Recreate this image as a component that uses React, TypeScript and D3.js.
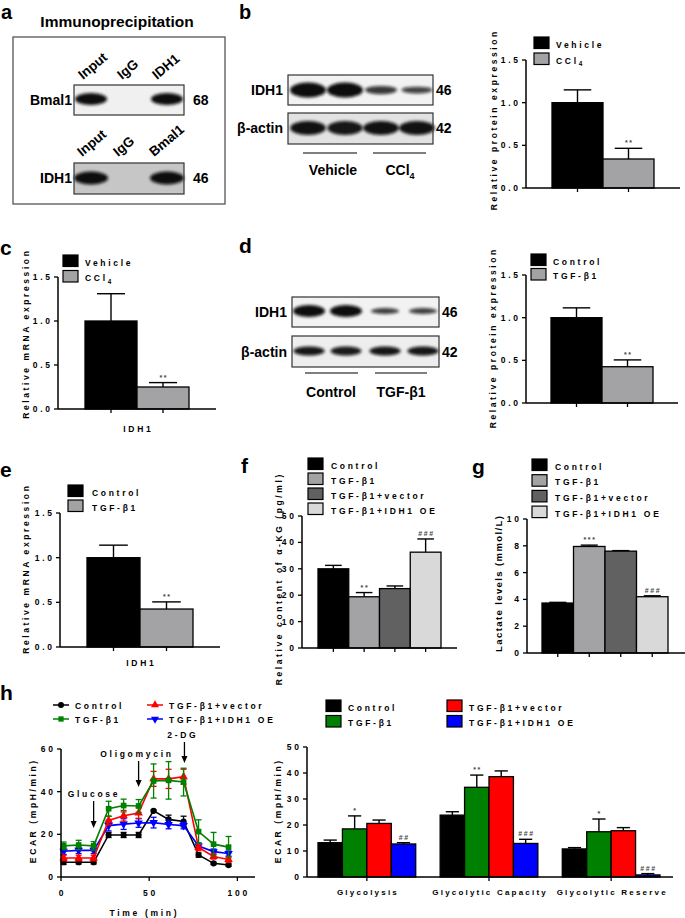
import React from "react";
import * as d3 from "d3";

const FONT = "'Liberation Sans', Arial, Helvetica, sans-serif";
const FS = 8.5;
const LS = 2.7;

// ---------------- DATA ----------------
const aLanesTop = ["Input", "IgG", "IDH1"];
const aLanesBottom = ["Input", "IgG", "Bmal1"];
const aBandsTop = [1, 0, 1];
const aBandsBottom = [1, 0, 1];
const bBlotIDH1 = [1, 1, 0.55, 0.45];
const bBlotActin = [0.95, 0.9, 0.95, 0.95];
const dBlotIDH1 = [1, 1, 0.5, 0.5];
const dBlotActin = [0.9, 0.85, 0.9, 0.9];

const vehCats = ["Vehicle", "CCl4"];
const tgfCats = ["Control", "TGF-β1"];
const fourCats = ["Control", "TGF-β1", "TGF-β1+vector", "TGF-β1+IDH1 OE"];

const bValues = [1.0, 0.34];
const bErrors = [0.15, 0.125];
const bStars = ["", "**"];
const cValues = [1.0, 0.25];
const cErrors = [0.31, 0.05];
const cStars = ["", "**"];
const dValues = [1.0, 0.425];
const dErrors = [0.115, 0.08];
const dStars = ["", "**"];
const eValues = [1.0, 0.425];
const eErrors = [0.14, 0.08];
const eStars = ["", "**"];
const fValues = [30, 19.4, 22.5, 36.3];
const fErrors = [1.3, 1.6, 1.0, 5.0];
const fStars = ["", "**", "", "###"];
const gValues = [3.73, 7.95, 7.6, 4.2];
const gErrors = [0.05, 0.1, 0.04, 0.07];
const gStars = ["", "***", "", "###"];

const unitTicks = [0, 0.5, 1.0, 1.5];
const fTicks = [0, 10, 20, 30, 40, 50];
const gTicks = [0, 2, 4, 6, 8, 10];

const hTimes = [1.5, 10, 18.5, 27, 35.5, 44, 52.5, 61, 69.5, 78, 86.5, 95];
const hControl = [6.9, 6.9, 6.9, 19.7, 19.7, 19.7, 31.0, 27.0, 26.0, 10.3, 6.4, 5.6];
const hControlErr = [1.0, 0.8, 0.8, 1.2, 1.2, 1.2, 0.5, 2.0, 2.5, 1.0, 0.6, 0.6];
const hTGF = [14.6, 15.0, 14.6, 32.0, 33.5, 33.3, 45.0, 45.3, 44.5, 21.3, 15.4, 14.0];
const hTGFErr = [1.8, 2.2, 2.0, 3.5, 3.0, 3.0, 8.0, 8.8, 6.5, 5.5, 5.5, 5.0];
const hVector = [8.9, 8.9, 8.9, 26.5, 28.7, 30.0, 46.0, 46.0, 47.0, 13.8, 9.6, 8.2];
const hVectorErr = [1.3, 1.3, 1.3, 2.0, 2.5, 2.5, 3.5, 4.5, 3.5, 1.5, 1.2, 1.3];
const hOE = [12.1, 12.5, 12.5, 24.1, 24.8, 25.3, 25.5, 24.6, 24.1, 14.5, 11.9, 11.0];
const hOEErr = [1.5, 1.5, 1.5, 2.5, 2.5, 2.0, 2.5, 2.0, 1.5, 1.5, 1.2, 1.2];
const hInjections = ["Glucose", "Oligomycin", "2-DG"];
const hInjectionTimes = [18.5, 44, 70];
const hXTicks = [0, 50, 100];
const hYTicks = [0, 20, 40, 60];

const hBarCats = ["Glycolysis", "Glycolytic Capacity", "Glycolytic Reserve"];
const hBarControl = [13.2, 23.8, 10.8];
const hBarControlErr = [1.0, 1.3, 0.5];
const hBarTGF = [18.5, 34.5, 17.4];
const hBarTGFErr = [5.0, 4.7, 4.9];
const hBarVector = [20.6, 38.6, 17.8];
const hBarVectorErr = [1.3, 2.2, 1.2];
const hBarOE = [12.7, 12.9, 0.8];
const hBarOEErr = [0.5, 1.6, 0.5];
const hBarTGFStars = ["*", "**", "*"];
const hBarOEStars = ["##", "###", "###"];
const hBarTicks = [0, 10, 20, 30, 40, 50];

// ---------------- STYLE ----------------
const grayColors = ["#000000", "#a3a3a6"];
const fourGray = ["#000000", "#a3a3a6", "#616161", "#d9d9d9"];
const hColors = ["#000000", "#008000", "#ff0000", "#0000ff"];

function label(s: string, subFs = FS * 0.75, dy = 2.5) {
  if (s === "CCl4")
    return (
      <>
        CCl<tspan fontSize={subFs} dy={dy}>4</tspan>
      </>
    );
  return s;
}

function SText({ x, y, children, anchor = "start", fs = FS, ls = LS, fill = "#000", weight = "bold", transform }: any) {
  const dx = anchor === "end" ? ls : anchor === "middle" ? ls / 2 : 0;
  return (
    <text
      x={x + dx}
      y={y}
      fontSize={fs}
      fontWeight={weight}
      letterSpacing={ls}
      textAnchor={anchor}
      fill={fill}
      fontFamily={FONT}
      transform={transform}
    >
      {children}
    </text>
  );
}

function BText({ x, y, children, anchor = "start", fs = 14, transform }: any) {
  return (
    <text x={x} y={y} fontSize={fs} fontWeight="bold" textAnchor={anchor} fontFamily={FONT} transform={transform}>
      {children}
    </text>
  );
}

function YLabel({ x, y, text, fs = FS, ls = 2.6 }: any) {
  return (
    <SText x={0} y={0} anchor="middle" fs={fs} ls={ls} transform={`translate(${x},${y}) rotate(-90)`}>
      {text}
    </SText>
  );
}

function Legend({ x, y, rowH, items, colors, textX, sw = 15, sh = 11.5 }: any) {
  return (
    <g>
      {items.map((it: string, i: number) => (
        <g key={i}>
          <rect x={x} y={y + i * rowH} width={sw} height={sh} fill={colors[i]} stroke="#000" strokeWidth={1.2} />
          <SText x={textX} y={y + i * rowH + sh - 1}>
            {label(it)}
          </SText>
        </g>
      ))}
    </g>
  );
}

function YAxis({ axisX, y, ticks, fmt, fs = FS }: any) {
  const [r0, r1] = y.range();
  return (
    <g>
      <line x1={axisX} x2={axisX} y1={r0} y2={r1} stroke="#000" strokeWidth={1.5} />
      {ticks.map((t: number) => (
        <g key={t}>
          <line x1={axisX - 4} x2={axisX} y1={y(t)} y2={y(t)} stroke="#000" strokeWidth={1.3} />
          <SText x={axisX - 8} y={y(t) + 3} anchor="end" fs={fs}>
            {fmt(t)}
          </SText>
        </g>
      ))}
    </g>
  );
}

function BarChart({ L, cats, values, errors, colors, stars, ticks, fmt, yMax }: any) {
  const y = d3.scaleLinear().domain([0, yMax]).range([L.y0, L.yTop]);
  const x = d3.scaleBand<string>().domain(cats).range(L.range).padding(0);
  const bw = x.bandwidth();
  return (
    <g>
      {cats.map((c: string, i: number) => {
        const v = values[i];
        const e = errors[i];
        const cx = (x(c) as number) + bw / 2;
        return (
          <g key={c}>
            <line x1={cx} x2={cx} y1={y(v)} y2={y(v + e)} stroke="#000" strokeWidth={1.4} />
            <line x1={cx - bw * 0.27} x2={cx + bw * 0.27} y1={y(v + e)} y2={y(v + e)} stroke="#000" strokeWidth={1.4} />
            <rect x={x(c)} y={y(v)} width={bw} height={L.y0 - y(v)} fill={colors[i]} stroke="#000" strokeWidth={1.3} />
            {stars[i] ? (
              <SText x={cx} y={y(v + e) - 3} anchor="middle" fs={7} ls={1.6} fill="#444">
                {stars[i]}
              </SText>
            ) : null}
            <line x1={cx} x2={cx} y1={L.y0} y2={L.y0 + 4} stroke="#000" strokeWidth={1.3} />
          </g>
        );
      })}
      <YAxis axisX={L.axisX} y={y} ticks={ticks} fmt={fmt} />
      <line x1={L.axisX} x2={L.xEnd} y1={L.y0} y2={L.y0} stroke="#000" strokeWidth={1.5} />
    </g>
  );
}

function Blot({ x, y, w, h, lanes, intens, cy, rx, ry, bg, ryScale = true }: any) {
  return (
    <g>
      <rect x={x} y={y} width={w} height={h} fill={bg} />
      <g filter="url(#blur)">
        {lanes.map((lx: number, i: number) =>
          intens[i] > 0 ? (
            <ellipse
              key={i}
              cx={lx}
              cy={cy}
              rx={rx * (0.75 + 0.25 * intens[i])}
              ry={ryScale ? ry * intens[i] : ry}
              fill="#0d0d0d"
              opacity={0.6 + 0.4 * intens[i]}
            />
          ) : null
        )}
      </g>
      <rect x={x} y={y} width={w} height={h} fill="none" stroke="#333" strokeWidth={1.2} />
    </g>
  );
}

const fmt1 = d3.format(".1f");
const fmt0 = d3.format("d");

function LineChart() {
  const xs = d3.scaleLinear().domain([0, 110]).range([61, 255]);
  const ys = d3.scaleLinear().domain([0, 60]).range([877, 749]);
  const series = [
    { v: hControl, e: hControlErr, c: hColors[0], s: d3.symbolCircle, size: 30, rot: 0 },
    { v: hOE, e: hOEErr, c: hColors[3], s: d3.symbolTriangle, size: 32, rot: 180 },
    { v: hVector, e: hVectorErr, c: hColors[2], s: d3.symbolTriangle, size: 32, rot: 0 },
    { v: hTGF, e: hTGFErr, c: hColors[1], s: d3.symbolSquare, size: 32, rot: 0 },
  ];
  const line = d3
    .line<number>()
    .x((_, i) => xs(hTimes[i]))
    .y((v) => ys(v));
  const arrowLayout = [
    { ty: 797, y1: 801, y2: 828 },
    { ty: 757, y1: 761, y2: 787 },
    { ty: 738, y1: 742, y2: 763 },
  ];
  const legendItems = [
    { name: fourCats[0], c: hColors[0], s: d3.symbolCircle, rot: 0, x: 53, y: 705 },
    { name: fourCats[1], c: hColors[1], s: d3.symbolSquare, rot: 0, x: 53, y: 719 },
    { name: fourCats[2], c: hColors[2], s: d3.symbolTriangle, rot: 0, x: 147, y: 705 },
    { name: fourCats[3], c: hColors[3], s: d3.symbolTriangle, rot: 180, x: 147, y: 719 },
  ];
  return (
    <g>
      {legendItems.map((it, i) => (
        <g key={i}>
          <line x1={it.x} x2={it.x + 16} y1={it.y} y2={it.y} stroke={it.c} strokeWidth={1.5} />
          <path d={d3.symbol().type(it.s).size(28)() as string} transform={`translate(${it.x + 8},${it.y}) rotate(${it.rot})`} fill={it.c} />
          <SText x={it.x + 22} y={it.y + 4}>
            {it.name}
          </SText>
        </g>
      ))}
      {series.map((s, k) => (
        <g key={k}>
          {s.v.map((v, i) => {
            const cx = xs(hTimes[i]);
            return (
              <g key={i}>
                <line x1={cx} x2={cx} y1={ys(v - s.e[i])} y2={ys(v + s.e[i])} stroke={s.c} strokeWidth={1.3} />
                <line x1={cx - 3} x2={cx + 3} y1={ys(v - s.e[i])} y2={ys(v - s.e[i])} stroke={s.c} strokeWidth={1.3} />
                <line x1={cx - 3} x2={cx + 3} y1={ys(v + s.e[i])} y2={ys(v + s.e[i])} stroke={s.c} strokeWidth={1.3} />
              </g>
            );
          })}
          <path d={line(s.v) as string} fill="none" stroke={s.c} strokeWidth={1.6} />
          {s.v.map((v, i) => (
            <path
              key={i}
              d={d3.symbol().type(s.s).size(s.size)() as string}
              transform={`translate(${xs(hTimes[i])},${ys(v)}) rotate(${s.rot})`}
              fill={s.c}
            />
          ))}
        </g>
      ))}
      {hInjections.map((name, i) => {
        const ax = xs(hInjectionTimes[i]);
        const A = arrowLayout[i];
        return (
          <g key={name}>
            <SText x={ax - (i === 0 ? 1 : 3)} y={A.ty} anchor="middle">
              {name}
            </SText>
            <line x1={ax} x2={ax} y1={A.y1} y2={A.y2 - 5} stroke="#000" strokeWidth={1.3} />
            <path d={`M${ax - 3},${A.y2 - 7} L${ax + 3},${A.y2 - 7} L${ax},${A.y2} Z`} fill="#000" />
          </g>
        );
      })}
      <YAxis axisX={61} y={ys} ticks={hYTicks} fmt={fmt0} />
      <line x1={61} x2={255} y1={877} y2={877} stroke="#000" strokeWidth={1.5} />
      {hXTicks.map((t) => (
        <g key={t}>
          <line x1={xs(t)} x2={xs(t)} y1={877} y2={881} stroke="#000" strokeWidth={1.3} />
          <SText x={xs(t)} y={896} anchor="middle">
            {fmt0(t)}
          </SText>
        </g>
      ))}
      <SText x={143} y={916} anchor="middle">
        Time (min)
      </SText>
      <YLabel x={36} y={812} text="ECAR (mpH/min)" />
    </g>
  );
}

function GroupBar() {
  const y = d3.scaleLinear().domain([0, 50]).range([877, 747]);
  const outer = d3.scaleBand<string>().domain(hBarCats).range([318, 660]).paddingInner(0.2).paddingOuter(0);
  const inner = d3.scaleBand<string>().domain(fourCats).range([0, outer.bandwidth()]);
  const vals = [hBarControl, hBarTGF, hBarVector, hBarOE];
  const errs = [hBarControlErr, hBarTGFErr, hBarVectorErr, hBarOEErr];
  const stars = [null, hBarTGFStars, null, hBarOEStars];
  const bw = inner.bandwidth();
  return (
    <g>
      {hBarCats.map((cat, gi) => (
        <g key={cat}>
          {fourCats.map((s, si) => {
            const v = vals[si][gi];
            const e = errs[si][gi];
            const x0 = (outer(cat) as number) + (inner(s) as number);
            const cx = x0 + bw / 2;
            const st = stars[si];
            return (
              <g key={s}>
                <line x1={cx} x2={cx} y1={y(v)} y2={y(v + e)} stroke="#000" strokeWidth={1.4} />
                <line x1={cx - bw * 0.27} x2={cx + bw * 0.27} y1={y(v + e)} y2={y(v + e)} stroke="#000" strokeWidth={1.4} />
                <rect x={x0} y={y(v)} width={bw} height={877 - y(v)} fill={hColors[si]} stroke="#000" strokeWidth={1.3} />
                {st ? (
                  <SText x={cx} y={y(v + e) - 3} anchor="middle" fs={7} ls={1.6} fill="#444">
                    {st[gi]}
                  </SText>
                ) : null}
              </g>
            );
          })}
          <line
            x1={(outer(cat) as number) + outer.bandwidth() / 2}
            x2={(outer(cat) as number) + outer.bandwidth() / 2}
            y1={877}
            y2={881}
            stroke="#000"
            strokeWidth={1.3}
          />
          <SText x={(outer(cat) as number) + outer.bandwidth() / 2} y={895} anchor="middle" fs={8} ls={2.2}>
            {cat}
          </SText>
        </g>
      ))}
      <YAxis axisX={307} y={y} ticks={hBarTicks} fmt={fmt0} />
      <line x1={307} x2={673} y1={877} y2={877} stroke="#000" strokeWidth={1.5} />
      <YLabel x={281} y={812} text="ECAR (mpH/min)" />
      <Legend x={326} y={700} rowH={15.5} items={fourCats.slice(0, 2)} colors={hColors.slice(0, 2)} textX={348} />
      <Legend x={447} y={700} rowH={15.5} items={fourCats.slice(2)} colors={hColors.slice(2)} textX={469} />
    </g>
  );
}

export default function App() {
  return (
    <svg width={685} height={918} style={{ position: "absolute", left: 0, top: 0, background: "#fff" }} fontFamily={FONT}>
      <defs>
        <filter id="blur" x="-30%" y="-80%" width="160%" height="260%">
          <feGaussianBlur stdDeviation="1.5" />
        </filter>
      </defs>
      <rect width={685} height={918} fill="#fff" />

      {/* Panel letters */}
      <BText x={1} y={19} fs={20}>a</BText>
      <BText x={239} y={19} fs={20}>b</BText>
      <BText x={0} y={255} fs={21}>c</BText>
      <BText x={239} y={253} fs={21}>d</BText>
      <BText x={0} y={477} fs={21}>e</BText>
      <BText x={241} y={473} fs={21}>f</BText>
      <BText x={472} y={474} fs={21}>g</BText>
      <BText x={0} y={700} fs={21}>h</BText>

      {/* Panel a */}
      <BText x={117} y={27} anchor="middle" fs={15.5}>Immunoprecipitation</BText>
      <rect x={13} y={37} width={212} height={167} fill="none" stroke="#555" strokeWidth={1.3} />
      {aLanesTop.map((l, i) => (
        <BText key={l} x={[83, 122, 157][i]} y={80} fs={13.5} transform={`rotate(-40,${[83, 122, 157][i]},80)`}>
          {l}
        </BText>
      ))}
      <Blot x={74} y={85} w={110} h={30} lanes={[91, 128, 167]} intens={aBandsTop} cy={99} rx={16} ry={6} bg="#f0f0f0" ryScale={false} />
      <BText x={72} y={105} anchor="end" fs={14}>Bmal1</BText>
      <BText x={193} y={105} fs={14}>68</BText>
      {aLanesBottom.map((l, i) => (
        <BText key={l} x={[82, 118, 154][i]} y={157} fs={13.5} transform={`rotate(-40,${[82, 118, 154][i]},157)`}>
          {l}
        </BText>
      ))}
      <Blot x={74} y={163} w={110} h={31} lanes={[91, 128, 167]} intens={aBandsBottom} cy={178} rx={17} ry={6.5} bg="#c6c6c6" ryScale={false} />
      <BText x={72} y={183} anchor="end" fs={14}>IDH1</BText>
      <BText x={193} y={183} fs={14}>46</BText>

      {/* Panel b blot */}
      <Blot x={288} y={75} w={145} h={30} lanes={[308, 345, 381, 417]} intens={bBlotIDH1} cy={90} rx={18} ry={7.5} bg="#f2f2f2" />
      <Blot x={288} y={113} w={145} h={31} lanes={[308, 345, 381, 417]} intens={bBlotActin} cy={128} rx={18} ry={7} bg="#e2e2e2" ryScale={false} />
      <BText x={283} y={95} anchor="end">IDH1</BText>
      <BText x={283} y={133} anchor="end">β-actin</BText>
      <BText x={436} y={95}>46</BText>
      <BText x={436} y={133}>42</BText>
      <line x1={303} x2={357} y1={153} y2={153} stroke="#000" strokeWidth={1.2} />
      <line x1={373} x2={426} y1={153} y2={153} stroke="#000" strokeWidth={1.2} />
      <BText x={333} y={175} anchor="middle">Vehicle</BText>
      <BText x={400} y={175} anchor="middle">{label("CCl4", 9, 4)}</BText>

      {/* Panel b chart */}
      <BarChart
        L={{ axisX: 526, y0: 188, yTop: 60, xEnd: 680, range: [552, 654] }}
        cats={vehCats}
        values={bValues}
        errors={bErrors}
        colors={grayColors}
        stars={bStars}
        ticks={unitTicks}
        fmt={fmt1}
        yMax={1.5}
      />
      <Legend x={534} y={37} rowH={16} items={vehCats} colors={grayColors} textX={556} />
      <YLabel x={497} y={121} text="Relative protein expression" />

      {/* Panel c */}
      <BarChart
        L={{ axisX: 58, y0: 409, yTop: 277, xEnd: 216, range: [85, 189] }}
        cats={vehCats}
        values={cValues}
        errors={cErrors}
        colors={grayColors}
        stars={cStars}
        ticks={unitTicks}
        fmt={fmt1}
        yMax={1.5}
      />
      <Legend x={63} y={255} rowH={15.5} items={vehCats} colors={grayColors} textX={85} />
      <YLabel x={29} y={335} text="Relative mRNA expression" />
      <SText x={137} y={432} anchor="middle">IDH1</SText>

      {/* Panel d blot */}
      <Blot x={292} y={297} w={147} h={30} lanes={[309, 346, 385, 423]} intens={dBlotIDH1} cy={311} rx={16} ry={6} bg="#f2f2f2" />
      <Blot x={292} y={336} w={147} h={31} lanes={[309, 346, 385, 423]} intens={dBlotActin} cy={351} rx={16} ry={4.5} bg="#eeeeee" ryScale={false} />
      <BText x={287} y={317} anchor="end">IDH1</BText>
      <BText x={287} y={357} anchor="end">β-actin</BText>
      <BText x={442} y={317}>46</BText>
      <BText x={442} y={357}>42</BText>
      <line x1={305} x2={358} y1={373} y2={373} stroke="#000" strokeWidth={1.2} />
      <line x1={375} x2={427} y1={373} y2={373} stroke="#000" strokeWidth={1.2} />
      <BText x={331} y={397} anchor="middle">Control</BText>
      <BText x={401} y={397} anchor="middle">TGF-β1</BText>

      {/* Panel d chart */}
      <BarChart
        L={{ axisX: 526, y0: 403, yTop: 275, xEnd: 678, range: [551, 653] }}
        cats={tgfCats}
        values={dValues}
        errors={dErrors}
        colors={grayColors}
        stars={dStars}
        ticks={unitTicks}
        fmt={fmt1}
        yMax={1.5}
      />
      <Legend x={531} y={254} rowH={14.5} items={tgfCats} colors={grayColors} textX={553} />
      <YLabel x={496} y={339} text="Relative protein expression" />

      {/* Panel e */}
      <BarChart
        L={{ axisX: 60, y0: 647, yTop: 513, xEnd: 220, range: [87, 193] }}
        cats={tgfCats}
        values={eValues}
        errors={eErrors}
        colors={grayColors}
        stars={eStars}
        ticks={unitTicks}
        fmt={fmt1}
        yMax={1.5}
      />
      <Legend x={68} y={485} rowH={15} items={tgfCats} colors={grayColors} textX={92} />
      <YLabel x={29} y={570} text="Relative mRNA expression" />
      <SText x={140} y={666} anchor="middle">IDH1</SText>

      {/* Panel f */}
      <BarChart
        L={{ axisX: 302, y0: 648, yTop: 516, xEnd: 457, range: [318, 441] }}
        cats={fourCats}
        values={fValues}
        errors={fErrors}
        colors={fourGray}
        stars={fStars}
        ticks={fTicks}
        fmt={fmt0}
        yMax={50}
      />
      <Legend x={308} y={458} rowH={15} items={fourCats} colors={fourGray} textX={331} />
      <YLabel x={282} y={580} text="Relative content of α-KG (pg/ml)" />

      {/* Panel g */}
      <BarChart
        L={{ axisX: 527, y0: 653, yTop: 519, xEnd: 685, range: [542, 668] }}
        cats={fourCats}
        values={gValues}
        errors={gErrors}
        colors={fourGray}
        stars={gStars}
        ticks={gTicks}
        fmt={fmt0}
        yMax={10}
      />
      <Legend x={532} y={459} rowH={15.7} items={fourCats} colors={fourGray} textX={555} />
      <YLabel x={502} y={584} text="Lactate levels (mmol/L)" fs={9.5} ls={1.4} />

      {/* Panel h */}
      <LineChart />
      <GroupBar />
    </svg>
  );
}
